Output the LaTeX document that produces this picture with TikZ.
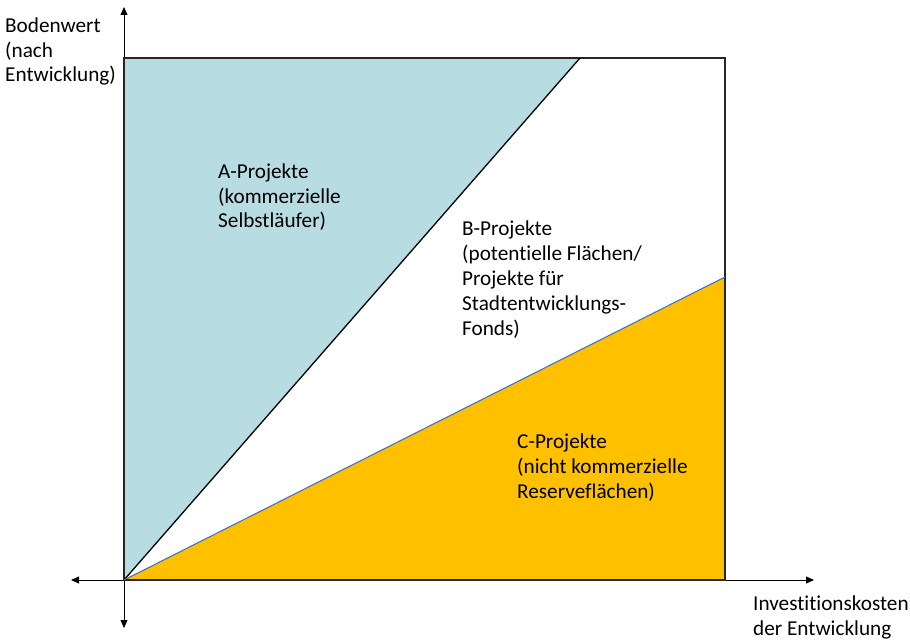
\documentclass[tikz,border=0pt]{standalone}
\usepackage{fontspec}
\setmainfont[Ligatures=NoCommon]{Carlito}
\usepackage{xcolor}
\usetikzlibrary{positioning,arrows.meta}
\definecolor{ablue}{HTML}{B7DDE3}
\definecolor{corange}{HTML}{FFC000}
\definecolor{edgeblue}{HTML}{4472C4}

\begin{document}
\begin{tikzpicture}[x=1bp, y=-1bp,
        txt/.style = {align=left, anchor=base west, inner sep=0pt,
        font=\fontsize{21.3}{25}\selectfont},
        axis/.style = {line width=0.8bp, -{Triangle[length=8bp,width=7bp]}},
        frame/.style = {draw=black!85, line width=1.6bp}]
        \useasboundingbox (0,0) rectangle (910,640);
        % corners of the square
        \coordinate (o) at (124,580);
        \coordinate (tl) at (124,58);
        \coordinate (tr) at (725,58);
        \coordinate (br) at (725,580);
        \coordinate (apex) at (580,58);
        \coordinate (cpeak) at (725,277);
        % axis ends
        \coordinate (xend) at (814,580);
        \coordinate (xbeg) at (71,580);
        \coordinate (yend) at (124,7);
        \coordinate (ybeg) at (124,628);
        % areas
        \fill[ablue] (o) -- (tl) -- (apex) -- cycle;
        \fill[corange] (o) -- (br) -- (cpeak) -- cycle;
        \draw[axis] (o) -- (xend);
        \draw[axis] (o) -- (xbeg);
        \draw[axis] (o) -- (yend);
        \draw[axis] (o) -- (ybeg);
        \draw[frame] (o) rectangle (tr);
        \draw[line width=1.3bp] (o) -- (apex);
        \draw[edgeblue, line width=1.1bp] (o) -- (cpeak);
        % texts (anchored at the baseline of the last line)
        \node[txt] (ylab) at (5,82) {Bodenwert\\(nach\\Entwicklung)};
        \node[txt] (xlab) at (753,635) {Investitionskosten\\der Entwicklung};
        \node[txt] (aproj) at (218,228) {A-Projekte\\(kommerzielle\\Selbstläufer)};
        \node[txt] (bproj) at (462,335) {B-Projekte\\(potentielle Flächen/\\Projekte für\\Stadtentwicklungs-\\Fonds)};
        \node[txt] (cproj) at (517,498) {C-Projekte\\(nicht kommerzielle\\Reserveflächen)};
\end{tikzpicture}
\end{document}
